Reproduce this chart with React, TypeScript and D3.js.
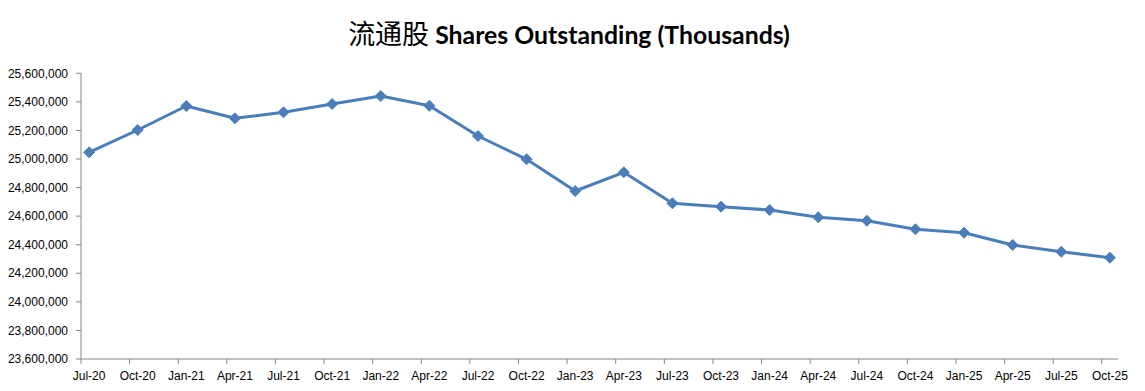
import React from "react";
import * as d3 from "d3";

const categories = [
  "Jul-20", "Oct-20",
  "Jan-21", "Apr-21", "Jul-21", "Oct-21",
  "Jan-22", "Apr-22", "Jul-22", "Oct-22",
  "Jan-23", "Apr-23", "Jul-23", "Oct-23",
  "Jan-24", "Apr-24", "Jul-24", "Oct-24",
  "Jan-25", "Apr-25", "Jul-25", "Oct-25",
];

const sharesOutstanding = [
  25047000, 25203000,
  25371000, 25285000, 25327000, 25385000,
  25441000, 25373000, 25161000, 24998000,
  24776000, 24907000, 24690000, 24666000,
  24643000, 24592000, 24568000, 24508000,
  24484000, 24398000, 24351000, 24309000,
];

const yTicks = [
  23600000, 23800000, 24000000, 24200000, 24400000, 24600000,
  24800000, 25000000, 25200000, 25400000, 25600000,
];

const W = 1145;
const H = 391;
const plot = { left: 81, right: 1118, top: 73.3, bottom: 359 };
const axisColor = "#868686";
const lineColor = "#4A7EBB";

export default function App() {
  // months since Jul 2020; axis spans 64 months, points at mid-month
  const x = d3.scaleLinear().domain([0, 64]).range([plot.left, plot.right]);
  const y = d3.scaleLinear().domain([23600000, 25600000]).range([plot.bottom, plot.top]);
  const px = (i: number) => x(i * 3 + 0.5);
  const fmt = d3.format(",");
  const line = d3
    .line<number>()
    .x((_, i) => px(i))
    .y((d) => y(d));
  const tickIdx = d3.range(0, 22);

  return (
    <svg
      width={W}
      height={H}
      style={{ position: "absolute", left: 0, top: 0, background: "#fff" }}
    >
      <rect width={W} height={H} fill="#fff" />
      <text x={569} y={44} textAnchor="middle" fill="#000">
        <tspan fontFamily="'Noto Sans CJK SC'" fontSize={27}>流通股 </tspan>
        <tspan fontFamily="Lato, 'Open Sans', sans-serif" fontWeight="bold" fontSize={24.8}>
          Shares Outstanding (Thousands)
        </tspan>
      </text>

      {/* y axis */}
      <line x1={plot.left} x2={plot.left} y1={plot.top} y2={plot.bottom} stroke={axisColor} strokeWidth={1} />
      {yTicks.map((t) => (
        <g key={t}>
          <line x1={plot.left - 5} x2={plot.left} y1={y(t)} y2={y(t)} stroke={axisColor} />
          <text
            x={68}
            y={y(t)}
            dy="0.35em"
            textAnchor="end"
            fontFamily="'Liberation Sans', Arial, sans-serif"
            fontSize={12}
            fill="#000"
          >
            {fmt(t)}
          </text>
        </g>
      ))}

      {/* x axis */}
      <line x1={plot.left} x2={plot.right} y1={plot.bottom} y2={plot.bottom} stroke={axisColor} strokeWidth={1} />
      {tickIdx.map((i) => (
        <line key={i} x1={x(i * 3)} x2={x(i * 3)} y1={plot.bottom} y2={plot.bottom + 5} stroke={axisColor} />
      ))}
      {categories.map((c, i) => (
        <text
          key={c}
          x={px(i)}
          y={380}
          textAnchor="middle"
          fontFamily="'Liberation Sans', Arial, sans-serif"
          fontSize={12}
          fill="#000"
        >
          {c}
        </text>
      ))}

      <path d={line(sharesOutstanding) || ""} fill="none" stroke={lineColor} strokeWidth={3} strokeLinejoin="round" />
      {sharesOutstanding.map((v, i) => {
        const cx = px(i);
        const cy = y(v);
        const r = 5.5;
        return (
          <path
            key={i}
            d={`M${cx},${cy - r}L${cx + r},${cy}L${cx},${cy + r}L${cx - r},${cy}Z`}
            fill={lineColor}
            stroke={lineColor}
            strokeWidth={1}
          />
        );
      })}
    </svg>
  );
}
